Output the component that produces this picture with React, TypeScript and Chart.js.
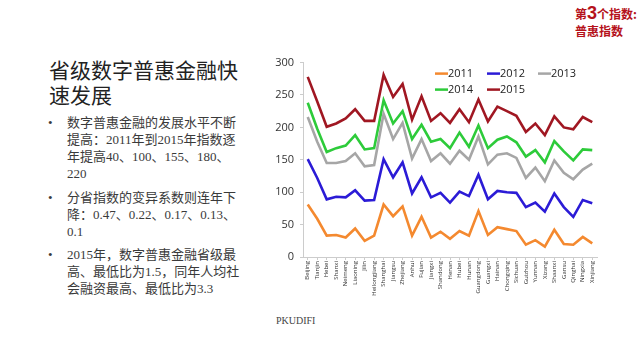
import React, { useEffect, useRef } from "react";
import { Chart, registerables } from "chart.js";

Chart.register(...registerables);

const provinces = [
  "Beijing", "Tianjin", "Hebei", "Shanxi", "Neimeng", "Liaoning", "Jilin", "Heilongjiang",
  "Shanghai", "Jiangsu", "Zhejiang", "Anhui", "Fujian", "Jiangxi", "Shandong", "Henan",
  "Hubei", "Hunan", "Guangdong", "Guangxi", "Hainan", "Chongqing", "Sichuan", "Guizhou",
  "Yunnan", "Xizang", "Shaanxi", "Gansu", "Qinghai", "Ningxia", "Xinjiang",
];

const y2011 = [81, 59, 33, 34, 30, 44, 25, 33, 81, 63, 78, 33, 62, 30, 39, 28, 40, 33, 71, 34, 46, 43, 40, 19, 26, 16, 42, 20, 19, 31, 21];
const y2012 = [151, 122, 89, 93, 92, 103, 87, 88, 151, 123, 146, 98, 123, 92, 99, 84, 101, 94, 127, 89, 102, 100, 99, 77, 84, 70, 98, 77, 62, 88, 83];
const y2013 = [216, 178, 145, 145, 148, 160, 140, 142, 221, 182, 207, 152, 182, 148, 160, 144, 164, 150, 186, 143, 158, 160, 153, 122, 138, 117, 149, 130, 120, 135, 144];
const y2014 = [238, 198, 162, 168, 172, 188, 166, 168, 242, 206, 225, 182, 204, 178, 182, 168, 192, 170, 203, 168, 181, 186, 177, 155, 165, 146, 179, 163, 149, 166, 165];
const y2015 = [278, 240, 201, 206, 214, 228, 210, 210, 281, 247, 267, 212, 248, 210, 222, 207, 228, 208, 243, 209, 232, 225, 218, 193, 206, 188, 217, 200, 197, 216, 208];

const seriesNames = ["2011", "2012", "2013", "2014", "2015"];
const seriesColors = ["#F4892F", "#2B1BD6", "#A6A6A6", "#2DCB3A", "#A01722"];
const yTicks = [0, 50, 100, 150, 200, 250, 300];

const legendPlugin = {
  id: "inlineLegend",
  afterDraw(chart: any) {
    const { ctx, chartArea } = chart;
    const cols = [chartArea.left + 132, chartArea.left + 184, chartArea.left + 235];
    const rows = [chartArea.top + 11, chartArea.top + 27];
    ctx.save();
    ctx.font = "11px 'Open Sans', 'Liberation Sans', sans-serif";
    ctx.textBaseline = "middle";
    ctx.textAlign = "left";
    chart.data.datasets.forEach((ds: any, i: number) => {
      const x = cols[i % 3];
      const y = rows[Math.floor(i / 3)];
      ctx.strokeStyle = ds.borderColor;
      ctx.lineWidth = 2.5;
      ctx.beginPath();
      ctx.moveTo(x, y);
      ctx.lineTo(x + 13, y);
      ctx.stroke();
      ctx.fillStyle = "#222";
      ctx.fillText(ds.label, x + 13, y + 0.5);
    });
    ctx.restore();
  },
};

function ChartBox() {
  const ref = useRef<HTMLCanvasElement | null>(null);
  useEffect(() => {
    if (!ref.current) return;
    const values = [y2011, y2012, y2013, y2014, y2015];
    const chart = new Chart(ref.current, {
      type: "line",
      data: {
        labels: provinces,
        datasets: values.map((v, i) => ({
          label: seriesNames[i],
          data: v,
          borderColor: seriesColors[i],
          backgroundColor: seriesColors[i],
          borderWidth: 2.6,
          pointRadius: 0,
          tension: 0,
        })),
      },
      options: {
        animation: false,
        responsive: false,
        maintainAspectRatio: false,
        layout: { padding: { top: 1, right: 11, left: 0, bottom: 0 } },
        plugins: { legend: { display: false }, tooltip: { enabled: false } },
        scales: {
          x: {
            offset: true,
            grid: { display: true, drawOnChartArea: false, drawTicks: true, tickLength: 3, color: "#CCCCCC" },
            border: { display: true, color: "#CCCCCC", width: 1 },
            ticks: {
              autoSkip: false,
              minRotation: 90,
              maxRotation: 90,
              padding: 1,
              color: "#333",
              font: { size: 6, family: "'Open Sans', 'Liberation Sans', sans-serif" },
            },
            afterFit(scale: any) {
              scale.height = 53;
            },
          },
          y: {
            min: 0,
            max: 300,
            afterBuildTicks(scale: any) {
              scale.ticks = yTicks.map((v) => ({ value: v }));
            },
            grid: { display: true, drawOnChartArea: false, drawTicks: true, tickLength: 3, color: "#CCCCCC" },
            border: { display: true, color: "#CCCCCC", width: 1 },
            ticks: {
              color: "#333",
              padding: 6,
              font: { size: 11, family: "'Open Sans', 'Liberation Sans', sans-serif" },
            },
            afterFit(scale: any) {
              scale.width = 40;
            },
          },
        },
      },
      plugins: [legendPlugin],
    });
    return () => chart.destroy();
  }, []);
  return <canvas ref={ref} width={345} height={260} style={{ position: "absolute", left: 263, top: 50, width: 345, height: 260 }} />;
}

const titleLines = ["省级数字普惠金融快", "速发展"];
const bullets = [
  ["数字普惠金融的发展水平不断", "提高：2011年到2015年指数逐", "年提高40、100、155、180、", "220"],
  ["分省指数的变异系数则连年下", "降：0.47、0.22、0.17、0.13、", "0.1"],
  ["2015年，数字普惠金融省级最", "高、最低比为1.5，同年人均社", "会融资最高、最低比为3.3"],
];
const bulletTops = [114, 189, 246];

export default function App() {
  const textFont = "'Liberation Serif', 'Noto Sans CJK SC', serif";
  return (
    <div style={{ position: "absolute", left: 0, top: 0, width: 640, height: 360, background: "#fff", overflow: "hidden" }}>
      <div style={{ position: "absolute", left: 575, top: 5, color: "#B5121B", fontWeight: "bold", fontFamily: "'Noto Sans CJK SC', sans-serif", fontSize: 12, lineHeight: "17px", whiteSpace: "nowrap" }}>
        <div>
          第<span style={{ fontSize: 18, fontFamily: "'Liberation Sans', sans-serif" }}>3</span>个指数:
        </div>
        <div>普惠指数</div>
      </div>
      <div style={{ position: "absolute", left: 49, top: 57, color: "#222", fontFamily: "'Noto Sans CJK SC', sans-serif", fontSize: 21, lineHeight: "25px", whiteSpace: "nowrap" }}>
        {titleLines.map((t, i) => (
          <div key={i}>{t}</div>
        ))}
      </div>
      {bullets.map((lines, bi) => (
        <div key={bi} style={{ position: "absolute", left: 48, top: bulletTops[bi], color: "#3a3a3a", fontFamily: textFont, fontSize: 13, lineHeight: "17px", whiteSpace: "nowrap" }}>
          <span style={{ position: "absolute", left: 0, top: 0 }}>•</span>
          <div style={{ marginLeft: 19 }}>
            {lines.map((l, li) => (
              <div key={li}>{l}</div>
            ))}
          </div>
        </div>
      ))}
      <div style={{ position: "absolute", left: 276, top: 315, color: "#444", fontFamily: "'Liberation Serif', serif", fontSize: 10 }}>PKUDIFI</div>
      <ChartBox />
    </div>
  );
}
